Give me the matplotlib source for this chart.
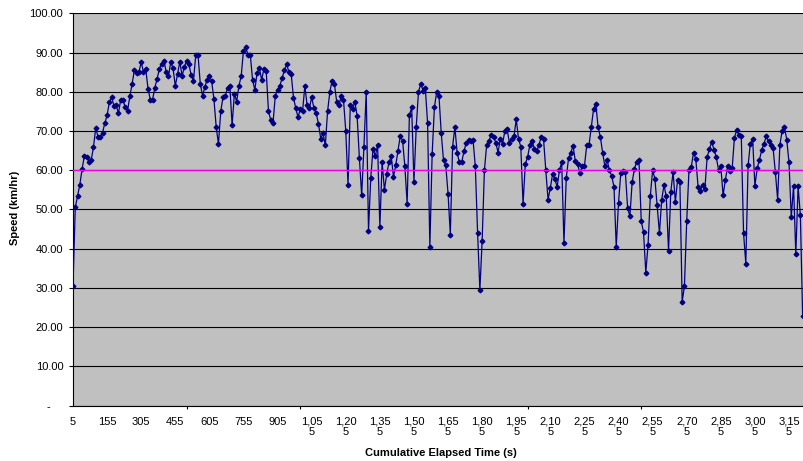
import numpy as np
import matplotlib.pyplot as plt

plt.rcParams['font.family'] = ['Liberation Sans', 'DejaVu Sans']

# speed readings (km/hr), one every 10 s starting at 5 s
speed = [
    30.5, 50.5, 53.4, 56.3, 60.3, 63.6, 63.3, 62.2, 62.6, 65.8,
    70.8, 68.5, 68.5, 69.6, 72.0, 74.0, 77.3, 78.6, 76.4, 76.5,
    74.5, 78.0, 77.8, 76.0, 75.2, 78.8, 82.0, 85.5, 84.8, 85.0,
    87.5, 85.1, 85.8, 80.8, 78.0, 78.0, 81.0, 83.3, 85.8,
    87.2, 87.9, 85.0, 84.0, 87.5, 86.0, 81.5, 84.5, 87.7, 84.0,
    86.4, 87.9, 87.0, 84.2, 82.8, 89.3, 89.4, 82.0, 79.0, 81.2,
    83.1, 84.0, 82.7, 78.1, 71.0, 66.7, 75.0, 78.6, 79.0, 81.0,
    81.5, 71.5, 79.5, 77.5, 81.5, 84.0, 90.5, 91.3, 89.4,
    89.4, 83.0, 80.5, 84.9, 86.0, 83.0, 85.9, 85.3, 75.0, 72.8,
    72.0, 79.0, 80.5, 81.5, 83.5, 85.5, 87.0, 85.0, 84.5, 78.5,
    75.8, 73.5, 75.6, 75.0, 81.5, 76.5, 75.8, 78.6, 75.8, 74.5,
    71.8, 68.0, 69.5, 66.3, 75.0, 80.0, 82.8, 82.0, 77.5, 76.5,
    79.0, 78.0, 70.0, 56.3, 76.5, 75.5, 77.5, 73.8, 63.0, 53.6,
    66.0, 80.0, 44.5, 58.0, 65.5, 63.5, 66.5, 45.5, 62.0, 55.0,
    58.9, 62.0, 63.5, 58.3, 61.3, 65.0, 68.8, 67.5, 61.0, 51.5,
    74.0, 76.0, 57.0, 71.0, 80.0, 82.0, 80.3, 80.9, 72.0, 40.4,
    64.0, 76.0, 80.0, 79.0, 69.5, 62.5, 61.2, 54.0, 43.6, 66.0,
    71.0, 64.4, 62.0, 62.0, 64.8, 67.0, 67.6, 67.4, 67.7, 61.0,
    44.0, 29.4, 42.0, 60.0, 66.5, 67.5, 69.0, 68.5, 67.0, 64.5,
    68.0, 66.8, 70.0, 70.4, 67.0, 68.0, 68.6, 73.0, 68.0,
    66.0, 51.4, 61.6, 63.3, 66.5, 67.4, 65.5, 64.8, 66.5, 68.5,
    68.0, 60.0, 52.5, 55.5, 59.0, 57.8, 55.7, 60.0, 62.0, 41.4,
    58.0, 63.0, 64.5, 66.2, 62.3, 61.5, 59.2, 61.0, 61.0, 66.3,
    66.3, 71.0, 75.5, 77.0, 71.0, 68.5, 64.5, 61.0, 62.5, 60.0,
    58.5, 55.8, 40.4, 51.7, 59.3, 59.9, 59.5, 50.4, 48.2, 57.0,
    60.3, 62.2, 62.5, 47.0, 44.2, 33.9, 41.0, 53.5, 60.0, 57.8,
    51.0, 44.0, 52.5, 56.2, 53.3, 39.4, 54.5, 59.5, 52.0, 57.5,
    57.0, 26.4, 30.5, 47.0, 60.0,
    60.8, 64.5, 62.8, 55.8, 54.8, 56.2, 55.3, 63.4, 65.4, 67.2,
    65.2, 63.3, 60.1, 61.0, 53.6, 57.5, 61.0, 59.9, 60.5, 68.3,
    70.3, 69.0, 68.8, 44.0, 36.2, 61.2, 66.8, 68.0, 56.0, 60.5,
    62.6, 65.2, 66.8, 68.6, 67.4, 66.4, 65.6, 59.5, 52.5, 66.5,
    70.1, 71.0, 67.8, 62.0, 48.0, 56.0, 38.6, 55.9, 48.5, 22.8,
]
elapsed = np.arange(5, 5 + 10 * len(speed), 10)
speed_limit = 60
y_ticks = [0, 10, 20, 30, 40, 50, 60, 70, 80, 90, 100]


def excel_label(t):
    s = f"{t:,}"
    return s if len(s) <= 4 else s[:4] + "\n" + s[4:]


fig = plt.figure(figsize=(8.04, 4.61), dpi=100)
ax = fig.add_axes([73 / 804, 1 - 405.5 / 461, 1 - 73 / 804, (405.5 - 13.3) / 461])
ax.set_facecolor('#C0C0C0')

idx = np.arange(len(speed))
ax.plot(idx, speed, color='#000080', lw=0.9, marker='D', markersize=2.4,
        markerfacecolor='#000080', markeredgecolor='#000080', zorder=3)
ax.axhline(speed_limit, color='#EE00EE', lw=1, zorder=4)

ax.set_xlim(0, 321.6)
ax.set_ylim(0, 100)

ax.set_yticks(y_ticks)
ax.set_yticklabels(['-    '] + [f"{v:.2f}" for v in y_ticks[1:]])
ax.tick_params(axis='y', direction='out', length=3, width=0.8, pad=4, labelsize=8)
ax.grid(axis='y', color='black', lw=0.8)
ax.set_axisbelow(True)

lab_idx = idx[::15]
ax.set_xticks(lab_idx)
ax.set_xticklabels([excel_label(elapsed[i]) for i in lab_idx], linespacing=1.05)
ax.set_xticks(idx[::50], minor=True)
ax.tick_params(axis='x', which='major', length=0, pad=8, labelsize=8)
ax.tick_params(axis='x', which='minor', direction='out', length=2.5, width=0.8)

for side in ['top', 'right']:
    ax.spines[side].set_visible(False)
for side in ['left', 'bottom']:
    ax.spines[side].set_color('black')
    ax.spines[side].set_linewidth(0.8)

fig.text(15 / 804, 1 - 208 / 461, 'Speed (km/hr)', rotation=90, ha='center',
         va='center', fontsize=8, fontweight='bold')
fig.text(441 / 804, 1 - 453 / 461, 'Cumulative Elapsed Time (s)', ha='center',
         va='center', fontsize=8, fontweight='bold')

fig.savefig('out.png', dpi=100)
